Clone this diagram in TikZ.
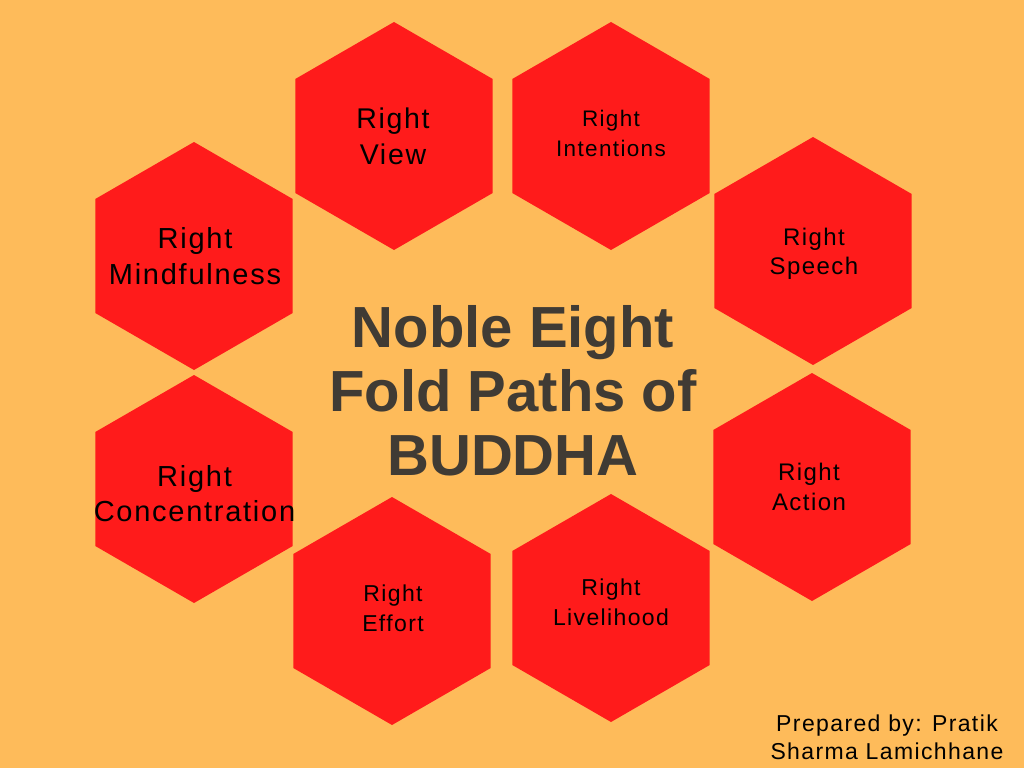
\documentclass[tikz,border=0pt]{standalone}
\usepackage{fontspec}
\setmainfont{Liberation Sans}
\newfontfamily\hexfont[LetterSpace=6]{Liberation Sans}
\newfontfamily\titlefont{Liberation Sans}
\usetikzlibrary{shapes.geometric}
\definecolor{bgorange}{HTML}{FEBB5A}
\definecolor{hexred}{HTML}{FF1B1B}
\definecolor{titlegray}{HTML}{403B34}
\tikzset{
  hexa/.style={regular polygon, regular polygon sides=6, shape border rotate=30,
    minimum size=228pt, inner sep=0pt, outer sep=0pt, fill=hexred, draw=none},
  lbl/.style={align=center, anchor=base, inner sep=0pt, text=black},
  big/.style={lbl, font=\hexfont\fontsize{28.5}{36}\selectfont},
  small/.style={lbl, font=\hexfont\fontsize{23}{30}\selectfont},
  mid/.style={lbl, font=\hexfont\fontsize{24}{29}\selectfont},
}
\begin{document}
\begin{tikzpicture}[x=1pt,y=-1pt]
\useasboundingbox (0,0) rectangle (1024,768);
\fill[bgorange] (0,0) rectangle (1024,768);
% hexagons
\node[hexa] (hV) at (394,136) {};
\node[hexa] (hI) at (611,136) {};
\node[hexa] (hS) at (813,251) {};
\node[hexa] (hA) at (812,487) {};
\node[hexa] (hL) at (611,608) {};
\node[hexa] (hE) at (392,611) {};
\node[hexa] (hC) at (194,489) {};
\node[hexa] (hM) at (194,256) {};
% labels (anchor = baseline of the last line)
\node[big] (tV) at (393,164) {Right\\View};
\node[small,font=\hexfont\fontsize{22.5}{30.5}\selectfont] (tI) at (611,156.7) {Right\\Intentions};
\node[mid] (tS) at (814,274.3) {Right\\Speech};
\node[mid,font=\hexfont\fontsize{24}{29.5}\selectfont] (tA) at (809,510) {Right\\Action};
\node[small] (tL) at (611,625.7) {Right\\Livelihood};
\node[small] (tE) at (393,631.7) {Right\\Effort};
\node[big,font=\hexfont\fontsize{29}{35.7}\selectfont] (tC) at (194.5,521.7) {Right\\Concentration};
\node[big,font=\hexfont\fontsize{29}{36}\selectfont] (tM) at (195,284.3) {Right\\Mindfulness};
% title
\node[lbl, text=titlegray, font=\titlefont\bfseries\fontsize{58}{63.8}\selectfont] (title) at (513,475) {Noble Eight\\Fold Paths of\\BUDDHA};
% credit
\node[lbl, font=\hexfont\fontsize{23}{27.6}\selectfont] (credit) at (887,759.3) {Prepared by: Pratik\\Sharma Lamichhane};
\end{tikzpicture}
\end{document}
